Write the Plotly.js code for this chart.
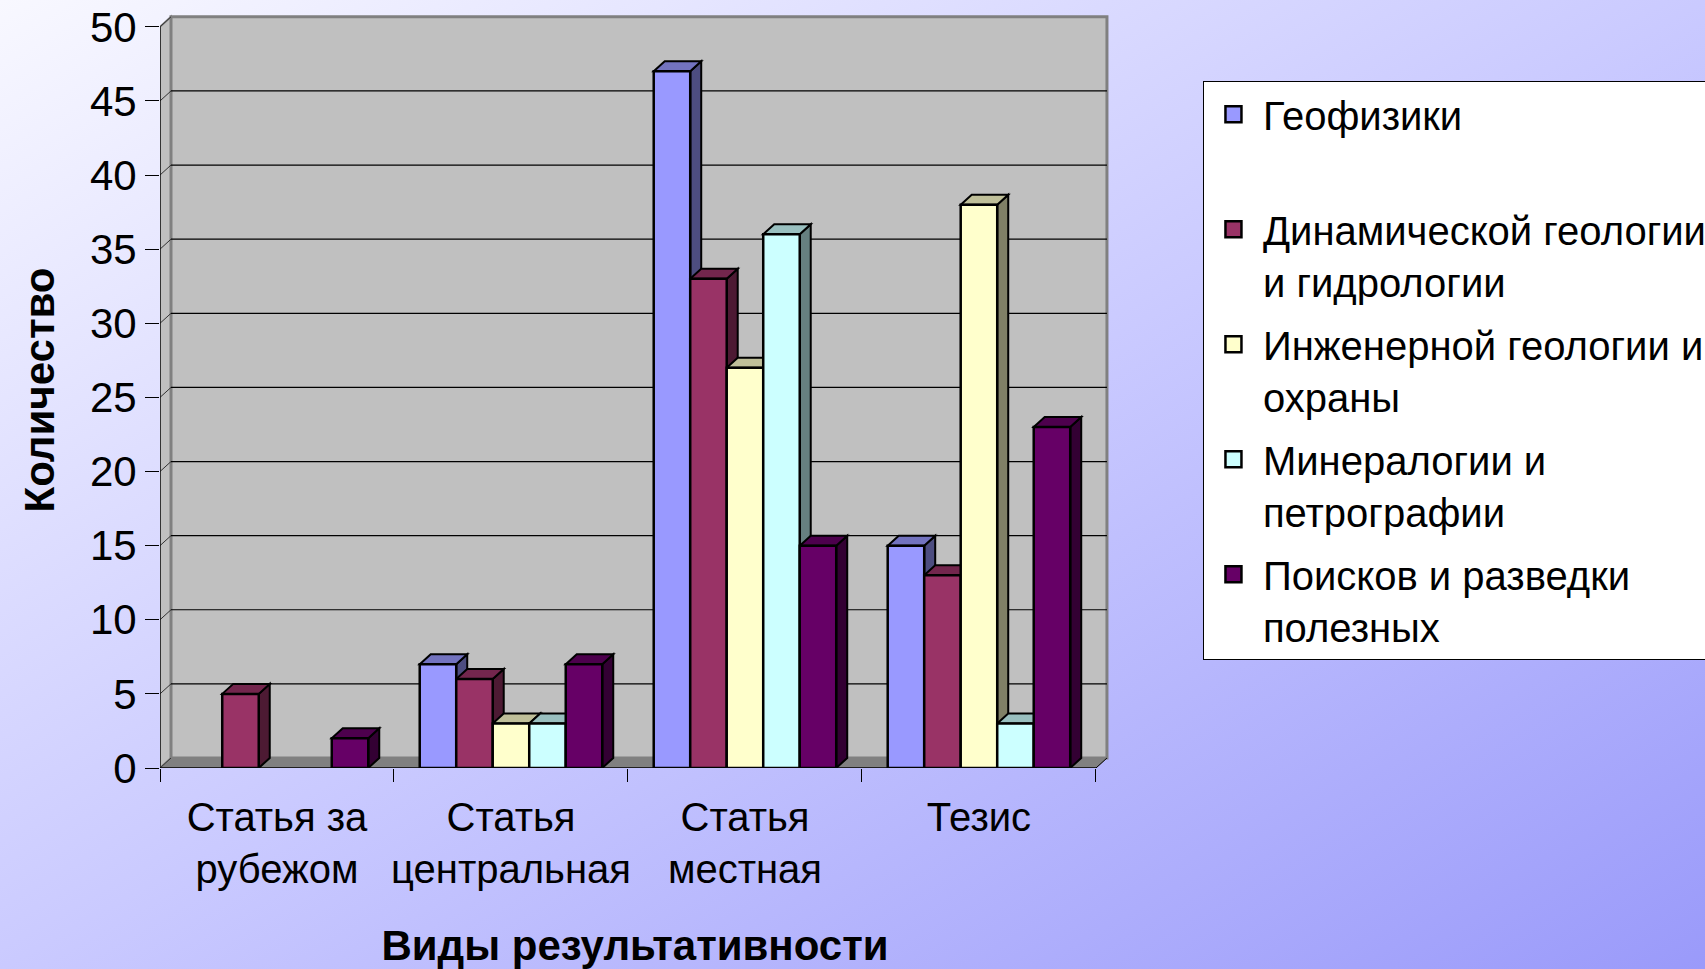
<!DOCTYPE html>
<html><head><meta charset="utf-8">
<script src="https://cdn.plot.ly/plotly-3.0.1.min.js"></script>
<style>
html,body{margin:0;padding:0;}
#chart{width:1705px;height:969px;background:linear-gradient(to bottom right,#F8F8FF 0%,#CACAFF 50%,#9A9AFA 100%);}
</style></head><body><div id="chart"></div>
<script>
// ---- data ----
const categories = ['Статья за<br>рубежом', 'Статья<br>центральная', 'Статья<br>местная', 'Тезис'];
const seriesNames = ['Геофизики<br> ', 'Динамической геологии<br>и гидрологии', 'Инженерной геологии и<br>охраны', 'Минералогии и<br>петрографии', 'Поисков и разведки<br>полезных'];
const geofiziki     = [null, 7, 47, 15];
const dinamicheskoy = [5, 6, 33, 13];
const inzhenernoy   = [null, 3, 27, 38];
const mineralogii   = [null, 3, 36, 3];
const poiskov       = [2, 7, 15, 23];
const yTicks = [0, 5, 10, 15, 20, 25, 30, 35, 40, 45, 50];

// ---- styles ----
const frontColors = ['#9999FF', '#993366', '#FFFFCC', '#CCFFFF', '#660066'];
const sideColors  = ['#4D4D80', '#4D1A33', '#808066', '#668080', '#330033'];
const topColors   = ['#7373BF', '#73264D', '#BFBF99', '#99BFBF', '#4D004D'];
const FONT = '"Liberation Sans", Arial, sans-serif';

const series = [geofiziki, dinamicheskoy, inzhenernoy, mineralogii, poiskov];
const catPos = categories.map((c, i) => i);
const catBounds = [-0.5].concat(catPos.map(p => p + 0.5));

// geometry
const L = 160, B = 768, pxCat = 234, pxUnit = 14.82, depthX = 11, depthY = 10;
const xr = [-0.5, 3.56], yr = [0, 51];
const plotW = (xr[1] - xr[0]) * pxCat, plotH = (yr[1] - yr[0]) * pxUnit;
const dxd = depthX / pxCat, dyd = depthY / pxUnit;
const bargap = 0.22;
const nS = series.length;
const bw = (1 - bargap) / nS;
const yMax = yTicks[yTicks.length - 1];
const xL = catBounds[0], xR = catBounds[catBounds.length - 1];

const shapes = [];
function poly(pts, fill, lc, lw) {
  shapes.push({type: 'path', xref: 'x', yref: 'y', layer: 'below',
    path: 'M' + pts.map(p => p[0] + ',' + p[1]).join(' L') + ' Z',
    fillcolor: fill, line: {color: lc, width: lw}});
}
function seg(x0, y0, x1, y1, c, w) {
  shapes.push({type: 'line', xref: 'x', yref: 'y', layer: 'below', x0, y0, x1, y1, line: {color: c, width: w}});
}
// left wall
poly([[xL, 0], [xL + dxd, dyd], [xL + dxd, yMax + dyd], [xL, yMax]], '#C0C0C0', '#808080', 2);
// back wall
poly([[xL + dxd, dyd], [xR + dxd, dyd], [xR + dxd, yMax + dyd], [xL + dxd, yMax + dyd]], '#C0C0C0', '#808080', 3);
// floor
poly([[xL, 0], [xR, 0], [xR + dxd, dyd], [xL + dxd, dyd]], '#808080', '#808080', 1);
// gridlines on back wall + tick connectors
yTicks.forEach(v => {
  if (v > 0 && v < yMax) seg(xL + dxd, v + dyd, xR + dxd, v + dyd, '#000000', 1.2);
  seg(xL, v, xL + dxd, v + dyd, '#333333', 1);
});
// bar depth faces
series.forEach((vals, si) => {
  vals.forEach((v, ci) => {
    if (v === null) return;
    const x0 = catPos[ci] + (si - (nS - 1) / 2) * bw - bw / 2;
    const x1 = x0 + bw;
    poly([[x1, 0], [x1 + dxd, dyd], [x1 + dxd, v + dyd], [x1, v]], sideColors[si], '#000000', 2);
    poly([[x0, v], [x1, v], [x1 + dxd, v + dyd], [x0 + dxd, v + dyd]], topColors[si], '#000000', 2);
  });
});
// front axes lines
seg(xL, 0, xL, yMax, '#000000', 1.2);
seg(xL, 0, xR, 0, '#000000', 1.5);
seg(xR, 0, xR + dxd, dyd, '#000000', 1);

const traces = series.map((vals, si) => ({
  type: 'bar', x: catPos, y: vals, name: seriesNames[si], showlegend: false,
  marker: {color: frontColors[si], line: {color: '#000000', width: 2.5}},
  hoverinfo: 'none'
}));
// legend entries (square swatches)
series.forEach((vals, si) => {
  traces.push({type: 'scatter', mode: 'markers', x: [null], y: [null], name: seriesNames[si],
    legendgroup: 'g' + si, showlegend: true, hoverinfo: 'none',
    marker: {symbol: 'square', size: 16, color: frontColors[si], line: {color: '#000000', width: 2.5}}});
});

const layout = {
  width: 1705, height: 969,
  margin: {l: L, r: 1705 - L - plotW, t: B - plotH, b: 969 - B, autoexpand: false},
  paper_bgcolor: 'rgba(0,0,0,0)', plot_bgcolor: 'rgba(0,0,0,0)',
  font: {family: FONT, color: '#000000', size: 40},
  barmode: 'group', bargap: bargap, bargroupgap: 0,
  showlegend: true,
  legend: {x: (1203 - L) / plotW, y: (B - 81) / plotH, xanchor: 'left', yanchor: 'top',
    bgcolor: '#FFFFFF', bordercolor: '#000000', borderwidth: 1, itemwidth: 49,
    font: {family: FONT, size: 40, color: '#000000'}, valign: 'top', tracegroupgap: 8},
  xaxis: {range: xr, tickmode: 'array', tickvals: catPos, ticktext: categories, ticks: '',
    showgrid: false, zeroline: false, showline: false, fixedrange: true,
    tickfont: {family: FONT, size: 40, color: '#000000'}, ticklabelstandoff: 22,
    minor: {tickmode: 'array', tickvals: catBounds, ticks: 'outside', ticklen: 13, tickcolor: '#000000', tickwidth: 1, showgrid: false},
    title: {text: '<b>Виды результативности</b>', font: {family: FONT, size: 42, color: '#000000'}, standoff: 40}},
  yaxis: {range: yr, tickmode: 'array', tickvals: yTicks, ticks: 'outside', ticklen: 14,
    tickcolor: '#000000', tickwidth: 1, showgrid: false, zeroline: false, showline: false,
    tickfont: {family: FONT, size: 42, color: '#000000'}, ticklabelstandoff: 0,
    title: {text: '<b>Количество</b>', font: {family: FONT, size: 42, color: '#000000'}, standoff: 22}},
  shapes: shapes
};
Plotly.newPlot('chart', traces, layout, {displayModeBar: false, staticPlot: true});
</script></body></html>
